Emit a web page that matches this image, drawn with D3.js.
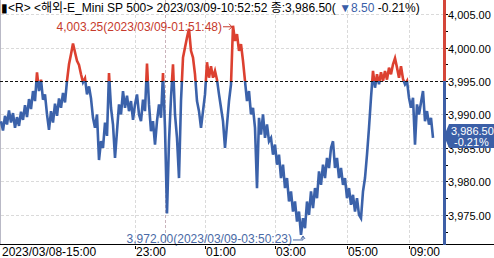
<!DOCTYPE html>
<meta charset="utf-8">
<style>
body { margin: 0; background: #fff; }
svg { display: block; font-family: "Liberation Sans", "Noto Sans CJK KR", sans-serif; }
.grid line { stroke: #dadada; stroke-dasharray: 3,2; shape-rendering: crispEdges; }
</style>
<body>
<svg width="494" height="258"></svg>
<script src="https://d3js.org/d3.v7.min.js"></script>
<script>

// price trace, left to right
var prices = [
  3989.0, 3987.6, 3989.8, 3988.5, 3990.6, 3988.8, 3990.2, 3988.0, 3989.6, 3988.3,
  3990.4, 3989.2, 3991.4, 3989.6, 3992.3, 3990.8, 3993.5, 3992.0, 3996.3, 3993.5,
  3995.2, 3992.2, 3993.0, 3990.0, 3987.7, 3990.5, 3988.8, 3991.6, 3989.8, 3992.4,
  3991.0, 3993.2, 3991.8, 3995.0, 3997.5, 3999.0, 4000.6, 3999.3, 3998.0, 3997.4,
  3996.0, 3994.8, 3995.4, 3993.0, 3994.2, 3992.4, 3989.5, 3988.0, 3990.0, 3983.2,
  3986.0, 3985.0, 3988.8, 3986.8, 3996.2, 3991.0, 3988.5, 3983.5, 3987.5, 3991.5,
  3990.0, 3993.5, 3991.0, 3992.8, 3990.5, 3992.0, 3989.2, 3991.5, 3993.0, 3990.0,
  3989.0, 3992.2, 3990.5, 3997.6, 3991.5, 3987.5, 3989.0, 3985.5, 3989.0, 3991.5,
  3989.5, 3996.2, 3988.0, 3975.2, 3986.0, 3992.5, 3997.5, 3990.0, 3986.5, 3980.5,
  3992.0, 3998.5, 4000.0, 4001.5, 4002.8, 3999.5, 3998.5, 3996.0, 3992.0, 3990.5,
  3988.0, 3990.5, 3993.0, 3997.8, 3995.5, 3997.2, 3995.5, 3996.5, 3995.2, 3993.0,
  3991.0, 3989.0, 3985.0, 3988.5, 3992.0, 3994.5, 4003.25, 4001.0, 4002.0, 3999.5,
  4000.5, 3998.0, 3995.0, 3992.0, 3993.5, 3990.0, 3991.0, 3988.0, 3979.0, 3989.5,
  3987.0, 3990.0, 3986.5, 3988.5, 3986.0, 3986.5, 3984.0, 3985.5, 3982.5, 3984.0,
  3980.5, 3982.5, 3979.0, 3980.5, 3977.0, 3978.5, 3975.5, 3977.0, 3974.0, 3975.5,
  3972.0, 3974.5, 3973.0, 3977.0, 3975.0, 3978.5, 3976.0, 3979.0, 3977.5, 3981.5,
  3979.5, 3982.5, 3980.5, 3983.5, 3982.0, 3985.0, 3986.0, 3982.0, 3983.5, 3980.5,
  3982.0, 3979.5, 3980.5, 3977.5, 3979.0, 3976.5, 3978.0, 3975.5, 3977.5, 3975.0,
  3974.5, 3978.5, 3980.5, 3984.0, 3988.0, 3992.5, 3996.5, 3994.0, 3996.0, 3994.5,
  3996.3, 3995.0, 3996.5, 3995.2, 3997.0, 3996.0, 3997.5, 3998.4, 3997.0, 3995.5,
  3997.2, 3995.3, 3994.5, 3995.0, 3992.5, 3991.0, 3992.5, 3985.5, 3991.5, 3990.0,
  3991.8, 3993.5, 3989.0, 3990.5, 3988.5, 3989.5, 3986.5
];

var yTicks = [4005, 4000, 3995, 3990, 3985, 3980, 3975];
var yMinorTicks = [4002.5, 3997.5, 3992.5, 3987.5, 3982.5, 3977.5, 3972.5];
var xTickIndex = [0, 67, 102, 137, 173, 204];
var xTickLabels = ["2023/03/08-15:00", "23:00", "01:00", "03:00", "05:00", "09:00"];
var dayBreakIndex = 82;

var refPrice = 3995;          // previous close
var lastPrice = 3986.5;
var changeText = "▼8.50";
var pctText = "-0.21%";
var hiText = "4,003.25(2023/03/09-01:51:48)";
var loText = "3,972.00(2023/03/09-03:50:23)";
var titleText = "▮<R> <해외-E_Mini SP 500> 2023/03/09-10:52:52 종:3,986.50( ";

var red = "#dc4030", blue = "#3b62aa";

var svg = d3.select("svg"),
    width = +svg.attr("width"),
    height = +svg.attr("height");

var plotRight = 443, plotBottom = 244;

var x = d3.scaleLinear().domain([0, prices.length - 1]).range([1, 433]);
var y = d3.scaleLinear().domain([3970.65, 4007.1]).range([plotBottom, 0]);
var yRef = y(refPrice);

// grid
var grid = svg.append("g").attr("class", "grid");
grid.selectAll("line.h")
    .data(yTicks.filter(function(d) { return d != refPrice; }))
    .enter().append("line")
    .attr("x1", 1).attr("x2", plotRight)
    .attr("y1", function(d) { return Math.round(y(d)) + 0.5; })
    .attr("y2", function(d) { return Math.round(y(d)) + 0.5; });
grid.selectAll("line.v")
    .data(xTickIndex.slice(1))
    .enter().append("line")
    .attr("x1", function(d) { return Math.round(x(d)) + 0.5; })
    .attr("x2", function(d) { return Math.round(x(d)) + 0.5; })
    .attr("y1", 0).attr("y2", plotBottom);
grid.append("line")
    .attr("x1", Math.round(x(dayBreakIndex)) + 0.5)
    .attr("x2", Math.round(x(dayBreakIndex)) + 0.5)
    .attr("y1", 0).attr("y2", plotBottom)
    .style("stroke", "#c9b3bb");

// left border
svg.append("line")
    .attr("x1", 0.5).attr("x2", 0.5).attr("y1", 0).attr("y2", plotBottom)
    .attr("stroke", "#b9b9c6");

// two-tone price line
var defs = svg.append("defs");
defs.append("clipPath").attr("id", "above")
  .append("rect").attr("x", 0).attr("y", 0).attr("width", plotRight).attr("height", yRef);
defs.append("clipPath").attr("id", "below")
  .append("rect").attr("x", 0).attr("y", yRef).attr("width", plotRight).attr("height", plotBottom - yRef);

var line = d3.line()
    .x(function(d, i) { return x(i); })
    .y(function(d) { return y(d); });

svg.append("path").datum(prices)
    .attr("d", line).attr("fill", "none")
    .attr("stroke", blue).attr("stroke-width", 2.6)
    .attr("clip-path", "url(#below)");
svg.append("path").datum(prices)
    .attr("d", line).attr("fill", "none")
    .attr("stroke", red).attr("stroke-width", 2.6)
    .attr("clip-path", "url(#above)");

// reference line
svg.append("line")
    .attr("x1", 0).attr("x2", plotRight)
    .attr("y1", Math.round(yRef) + 0.5).attr("y2", Math.round(yRef) + 0.5)
    .attr("stroke", "#111").attr("stroke-dasharray", "3,2");

// high / low annotations
var hiIdx = d3.maxIndex(prices), loIdx = d3.minIndex(prices);
var hx = x(hiIdx), hy = y(prices[hiIdx]);
svg.append("text")
    .attr("x", hx - 11).attr("y", hy + 5)
    .attr("text-anchor", "end")
    .attr("fill", "#c63a2c").style("font-size", "12px")
    .text(hiText);
svg.append("path")
    .attr("d", "M" + (hx - 10) + "," + (hy + 1) + "H" + (hx - 1))
    .attr("stroke", "#c63a2c").attr("fill", "none");
svg.append("path")
    .attr("d", "M" + (hx - 4) + "," + (hy - 2) + "L" + (hx - 1) + "," + (hy + 1) + "L" + (hx - 4) + "," + (hy + 4))
    .attr("stroke", "#c63a2c").attr("fill", "none");

var lx = x(loIdx), ly = y(prices[loIdx]);
svg.append("text")
    .attr("x", lx - 9).attr("y", ly + 8)
    .attr("text-anchor", "end")
    .attr("fill", "#4a6aa6").style("font-size", "12px")
    .text(loText);
svg.append("path")
    .attr("d", "M" + (lx - 8) + "," + (ly + 5) + "H" + (lx + 2) + "V" + (ly + 2))
    .attr("stroke", "#4a6aa6").attr("fill", "none");
svg.append("path")
    .attr("d", "M" + (lx) + "," + (ly + 4) + "L" + (lx + 2) + "," + (ly + 1) + "L" + (lx + 4) + "," + (ly + 4))
    .attr("stroke", "#4a6aa6").attr("fill", "none");

// x axis
svg.append("line")
    .attr("x1", 0).attr("x2", width)
    .attr("y1", plotBottom + 0.5).attr("y2", plotBottom + 0.5)
    .attr("stroke", "#000");
var xt = svg.selectAll("g.xt")
    .data(xTickIndex)
    .enter().append("g")
    .attr("transform", function(d) { return "translate(" + Math.round(x(d)) + ",0)"; });
xt.filter(function(d, i) { return i > 0; }).append("line")
    .attr("x1", 0.5).attr("x2", 0.5)
    .attr("y1", plotBottom + 2).attr("y2", plotBottom + 5)
    .attr("stroke", "#000");
xt.append("text")
    .attr("x", 1).attr("y", 256)
    .style("font-size", "12px").attr("fill", "#000")
    .text(function(d, i) { return xTickLabels[i]; });

// y axis bar
svg.append("rect")
    .attr("x", plotRight).attr("y", 0).attr("width", 3).attr("height", yRef)
    .attr("fill", "#d4463a");
svg.append("rect")
    .attr("x", plotRight).attr("y", yRef).attr("width", 3).attr("height", plotBottom + 1 - yRef)
    .attr("fill", "#3e5fa6");

var yt = svg.selectAll("g.yt")
    .data(yTicks)
    .enter().append("g")
    .attr("transform", function(d) { return "translate(0," + Math.round(y(d)) + ")"; });
yt.append("line")
    .attr("x1", plotRight + 3).attr("x2", plotRight + 5)
    .attr("y1", 0.5).attr("y2", 0.5)
    .attr("stroke", "#000");
yt.append("text")
    .attr("x", plotRight + 5).attr("y", 4.5)
    .style("font-size", "11px").attr("fill", "#000")
    .text(function(d) { return d3.format(",.2f")(d); });
svg.selectAll("line.minor")
    .data(yMinorTicks)
    .enter().append("line")
    .attr("x1", plotRight + 3).attr("x2", plotRight + 5)
    .attr("y1", function(d) { return Math.round(y(d)) + 0.5; })
    .attr("y2", function(d) { return Math.round(y(d)) + 0.5; })
    .attr("stroke", "#000");

// last price tag
var py = y(lastPrice);
svg.append("path")
    .attr("d", "M" + (plotRight + 1) + "," + (py - 2) + "L" + (plotRight + 6) + "," + (py - 14) +
               "H" + width + "V" + (py + 10) + "H" + (plotRight + 6) + "Z")
    .attr("fill", "#3b5fa7");
svg.append("text")
    .attr("x", plotRight + 8).attr("y", py - 3)
    .style("font-size", "11px").attr("fill", "#fff")
    .text(d3.format(",.2f")(lastPrice));
svg.append("text")
    .attr("x", plotRight + 11).attr("y", py + 8)
    .style("font-size", "11px").attr("fill", "#fff")
    .text(pctText);

// title
var title = svg.append("text")
    .attr("x", 1).attr("y", 12)
    .style("font-size", "12px").attr("fill", "#000");
title.append("tspan").text(titleText);
title.append("tspan").attr("fill", "#3a5ea8").text(changeText);
title.append("tspan").text("  " + pctText + ")");

</script>
</body>
